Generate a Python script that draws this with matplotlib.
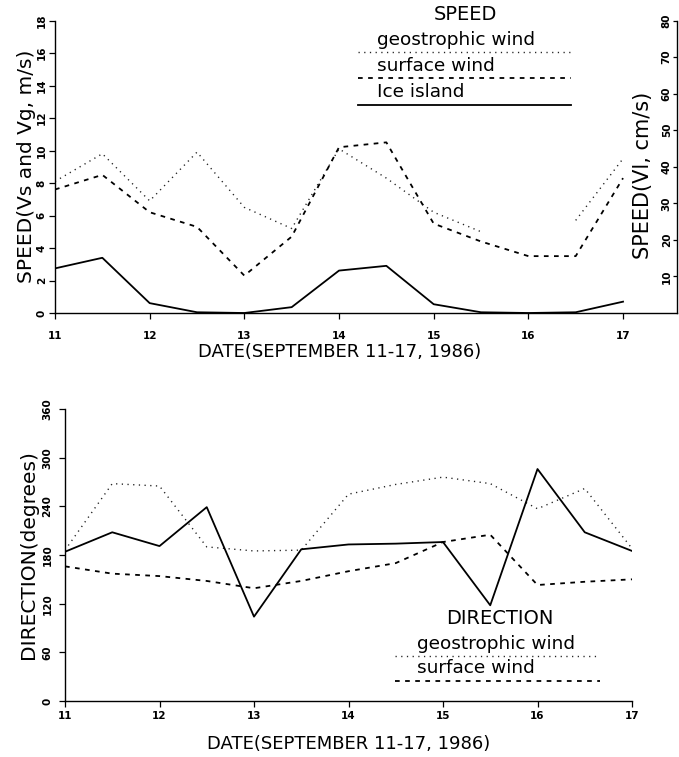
import numpy as np
import matplotlib
matplotlib.use("Agg")
import matplotlib.pyplot as plt
from matplotlib.lines import Line2D

# half-day sample times, September 11-17, 1986
days = [11, 11.5, 12, 12.5, 13, 13.5, 14, 14.5, 15, 15.5, 16, 16.5, 17]

# speeds: winds in m/s, ice island drift in cm/s
speed_geostrophic = [8.1, 9.8, 6.9, 9.9, 6.5, 5.2, 10.1, 8.3, 6.2, 5.0, np.nan, 5.7, 9.5]
speed_surface = [7.6, 8.5, 6.2, 5.3, 2.3, 4.7, 10.2, 10.5, 5.5, 4.4, 3.5, 3.5, 8.3]
speed_ice = [12.2, 15.1, 2.7, 0.2, 0.0, 1.6, 11.6, 12.9, 2.4, 0.2, 0.0, 0.2, 3.1]

# directions in degrees
dir_geostrophic = [186, 268, 265, 190, 185, 186, 255, 267, 276, 268, 237, 262, 188]
dir_surface = [166, 157, 154, 148, 139, 148, 160, 170, 196, 205, 143, 147, 150]
dir_ice = [184, 208, 191, 239, 104, 187, 193, 194, 196, 118, 286, 208, 185]

day_ticks = [11, 12, 13, 14, 15, 16, 17]
speed_ticks = [0, 2, 4, 6, 8, 10, 12, 14, 16, 18]
speed_cm_ticks = [10, 20, 30, 40, 50, 60, 70, 80]
dir_ticks = [0, 60, 120, 180, 240, 300, 360]

plt.rcParams["font.family"] = ["DejaVu Sans"]

W, H = 679, 757
fig = plt.figure(figsize=(W / 100, H / 100), dpi=100)


def px(x, y):
    # pixel position (from top-left) -> figure fraction
    return x / W, 1 - y / H


DOT = dict(color="#222222", lw=1.0, dashes=(0.9, 3.2))
DASH = dict(color="black", lw=1.3, dashes=(2.6, 3.0))
SOLID = dict(color="black", lw=1.3)
TICKFONT = dict(fontsize=7.5, fontweight="bold")


def style_axes(ax):
    ax.spines["top"].set_visible(False)
    ax.spines["right"].set_visible(False)
    for s in ("left", "bottom"):
        ax.spines[s].set_linewidth(1.0)
    ax.tick_params(axis="both", direction="out", length=4, width=0.9)
    ax.set_xticks(day_ticks)
    ax.set_xticklabels([str(d) for d in day_ticks], **TICKFONT)


# ---- speed panel ----
ax1 = fig.add_axes([55 / W, 1 - 313 / H, 622 / W, 292.5 / H])
style_axes(ax1)
ax1.set_xlim(11, 17.57)
ax1.set_ylim(0, 18)
ax1.set_yticks(speed_ticks)
ax1.set_yticklabels([str(v) for v in speed_ticks], rotation=90, va="center", **TICKFONT)
ax1.tick_params(axis="y", pad=2)
ax1.tick_params(axis="x", pad=9)
ax1.plot(days, speed_geostrophic, **DOT)
ax1.plot(days, speed_surface, **DASH)
ax1.set_ylabel("SPEED(Vs and Vg, m/s)", fontsize=14.5)
ax1.yaxis.set_label_coords(-0.031, 0.5)
ax1.set_xlabel("DATE(SEPTEMBER 11-17, 1986)", fontsize=13)
ax1.xaxis.set_label_coords(0.458, -0.104)

ax2 = ax1.twinx()
ax2.set_ylim(0, 80)
for s in ("top", "left", "bottom"):
    ax2.spines[s].set_visible(False)
ax2.spines["right"].set_linewidth(1.0)
ax2.set_yticks(speed_cm_ticks)
ax2.set_yticklabels([str(v) for v in speed_cm_ticks], rotation=90, va="center", **TICKFONT)
ax2.tick_params(axis="y", direction="in", length=3, width=0.9, pad=-11)
ax2.plot(days, speed_ice, **SOLID)
ax2.set_ylabel("SPEED(Vl, cm/s)", fontsize=15)
ax2.yaxis.set_label_coords(0.930, 0.47)

# speed key
fig.text(*px(465, 15), "SPEED", fontsize=14, ha="center", va="center")
fig.text(*px(377, 40), "geostrophic wind", fontsize=13.3, ha="left", va="center")
fig.text(*px(377, 66), "surface wind", fontsize=13.3, ha="left", va="center")
fig.text(*px(377, 92), "Ice island", fontsize=13.3, ha="left", va="center")
for y, st in ((52, DOT), (78, DASH), (105, SOLID)):
    (x0, yy), (x1, _) = px(358, y), px(571, y)
    fig.add_artist(Line2D([x0, x1], [yy, yy], transform=fig.transFigure, **st))

# ---- direction panel ----
ax3 = fig.add_axes([65 / W, 1 - 701 / H, 567 / W, 292 / H])
style_axes(ax3)
ax3.set_xlim(11, 17)
ax3.set_ylim(0, 360)
ax3.set_yticks(dir_ticks)
ax3.set_yticklabels([str(v) for v in dir_ticks], rotation=90, va="center", **TICKFONT)
ax3.tick_params(axis="y", pad=5)
ax3.tick_params(axis="x", pad=3)
ax3.plot(days, dir_geostrophic, **DOT)
ax3.plot(days, dir_surface, **DASH)
ax3.plot(days, dir_ice, **SOLID)
ax3.set_ylabel("DIRECTION(degrees)", fontsize=14.5)
ax3.yaxis.set_label_coords(-0.048, 0.5)
ax3.set_xlabel("DATE(SEPTEMBER 11-17, 1986)", fontsize=13)
ax3.xaxis.set_label_coords(0.5, -0.115)

# direction key
fig.text(*px(500, 619), "DIRECTION", fontsize=14, ha="center", va="center")
fig.text(*px(417, 644), "geostrophic wind", fontsize=13.3, ha="left", va="center")
fig.text(*px(417, 668), "surface wind", fontsize=13.3, ha="left", va="center")
for y, st in ((656, DOT), (681, DASH)):
    (x0, yy), (x1, _) = px(395, y), px(600, y)
    fig.add_artist(Line2D([x0, x1], [yy, yy], transform=fig.transFigure, **st))

fig.savefig("out.png", dpi=100)
